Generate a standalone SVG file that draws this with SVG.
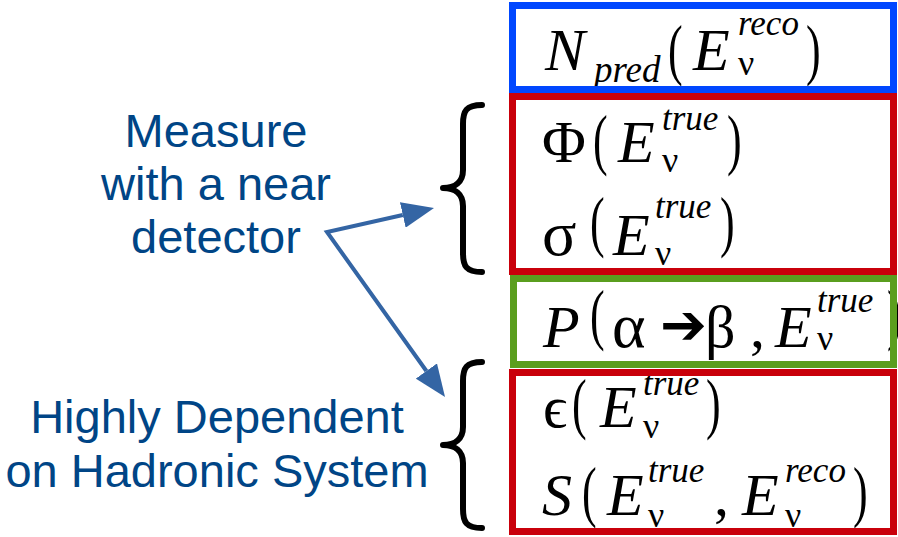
<svg xmlns="http://www.w3.org/2000/svg" width="898" height="537" viewBox="0 0 898 537">
<style>
.lbl{font-family:"Liberation Sans",Arial,sans-serif;font-size:47px;fill:#004586;text-anchor:middle}
.m{font-family:"Liberation Serif","DejaVu Serif",serif;fill:#000;font-size:60px}
.i{font-style:italic}
.sup{font-size:35px;font-style:italic}
.sub{font-size:37px;font-style:italic}
.nu{font-size:36px}
.big{font-size:64px}
.p{font-family:"Liberation Serif","DejaVu Serif",serif;font-size:44px;fill:#000}
.arr{font-family:"DejaVu Sans",sans-serif;font-size:56px;font-weight:bold;fill:#000}
.box{fill:none;stroke-width:7}
.brace{fill:none;stroke:#000;stroke-width:6;stroke-linecap:round;stroke-linejoin:round}
.conn{fill:none;stroke:#3465a4;stroke-width:4;stroke-linejoin:miter}
</style>
<defs>
<marker id="ah" markerUnits="userSpaceOnUse" viewBox="0 0 32 26" refX="0" refY="13" markerWidth="32" markerHeight="26" orient="auto-start-reverse">
<path d="M0,0 L32,13 L0,26 z" fill="#3465a4"/>
</marker>
</defs>
<rect width="898" height="537" fill="#fff"/>

<g id="label-near">
<text class="lbl" x="216" y="147">Measure</text>
<text class="lbl" x="216" y="200">with a near</text>
<text class="lbl" x="216" y="253">detector</text>
</g>
<g id="label-hadronic">
<text class="lbl" x="217" y="433">Highly Dependent</text>
<text class="lbl" x="217" y="487">on Hadronic System</text>
</g>

<g id="brace-top"><path class="brace" d="M482,105 C466,105 463,111 463,124 L463,170 C463,182 455,188 443,188 C455,188 463,194 463,206 L463,253 C463,266 466,272 482,272"/></g>
<g id="brace-bottom"><path class="brace" d="M482,362 C466,362 463,368 463,381 L463,427 C463,439 455,445 443,445 C455,445 463,451 463,463 L463,509 C463,522 466,528 482,528"/></g>

<g id="connectors">
<path class="conn" d="M402.8,215 L327,232 L426.4,371" marker-start="url(#ah)" marker-end="url(#ah)"/>
</g>

<g id="node-npred">
<text class="m i" x="545" y="70">N</text>
<text class="m sub" x="594" y="82">pred</text>
<text class="p" transform="translate(668,72) scale(1,1.55)">(</text>
<text class="m i" x="693" y="70">E</text>
<text class="m sup" x="738" y="35">reco</text>
<text class="m nu" x="738" y="75">ν</text>
<text class="p" transform="translate(806,72) scale(1,1.55)">)</text>
<rect class="box" x="512.5" y="5.5" width="381" height="84" stroke="#0047ff"/>
</g>

<g id="node-flux-xsec">
<text class="m" x="542" y="162">Φ</text>
<text class="p" transform="translate(593,162) scale(1,1.55)">(</text>
<text class="m i" x="618" y="162">E</text>
<text class="m sup" x="662" y="130">true</text>
<text class="m nu" x="662" y="172">ν</text>
<text class="p" transform="translate(727,162) scale(1,1.55)">)</text>
<text class="m big" x="542" y="255">σ</text>
<text class="p" transform="translate(590,244) scale(1,1.55)">(</text>
<text class="m i" x="613" y="255">E</text>
<text class="m sup" x="655" y="218">true</text>
<text class="m nu" x="655" y="265">ν</text>
<text class="p" transform="translate(720,244) scale(1,1.55)">)</text>
<rect class="box" x="512.5" y="96.5" width="381" height="175" stroke="#c9000b"/>
</g>

<g id="node-osc">
<text class="m i" x="543" y="347">P</text>
<text class="p" transform="translate(590,337) scale(1,1.55)">(</text>
<text class="m big" x="612" y="347">α</text>
<text class="arr" x="660" y="344">➔</text>
<text class="m" x="705" y="347">β</text>
<text class="m" x="750" y="347">,</text>
<text class="m i" x="775" y="347">E</text>
<text class="m sup" x="817" y="312">true</text>
<text class="m nu" x="817" y="350">ν</text>
<text class="p" transform="translate(887,337) scale(1,1.55)">)</text>
<rect class="box" x="513.5" y="278.5" width="380" height="86" stroke="#5a9e1e"/>
</g>

<g id="node-eff-smear">
<text class="m" x="543" y="427">ϵ</text>
<text class="p" transform="translate(572,426) scale(1,1.55)">(</text>
<text class="m i" x="600" y="427">E</text>
<text class="m sup" x="643" y="395">true</text>
<text class="m nu" x="643" y="438">ν</text>
<text class="p" transform="translate(706,426) scale(1,1.55)">)</text>
<text class="m i" x="542" y="515">S</text>
<text class="p" transform="translate(582,514) scale(1,1.55)">(</text>
<text class="m i" x="607" y="515">E</text>
<text class="m sup" x="648" y="482">true</text>
<text class="m nu" x="648" y="527">ν</text>
<text class="m" x="714" y="515">,</text>
<text class="m i" x="742" y="515">E</text>
<text class="m sup" x="785" y="482">reco</text>
<text class="m nu" x="785" y="527">ν</text>
<text class="p" transform="translate(853,514) scale(1,1.55)">)</text>
<rect class="box" x="512.5" y="372.5" width="381" height="159" stroke="#c9000b"/>
</g>
</svg>
